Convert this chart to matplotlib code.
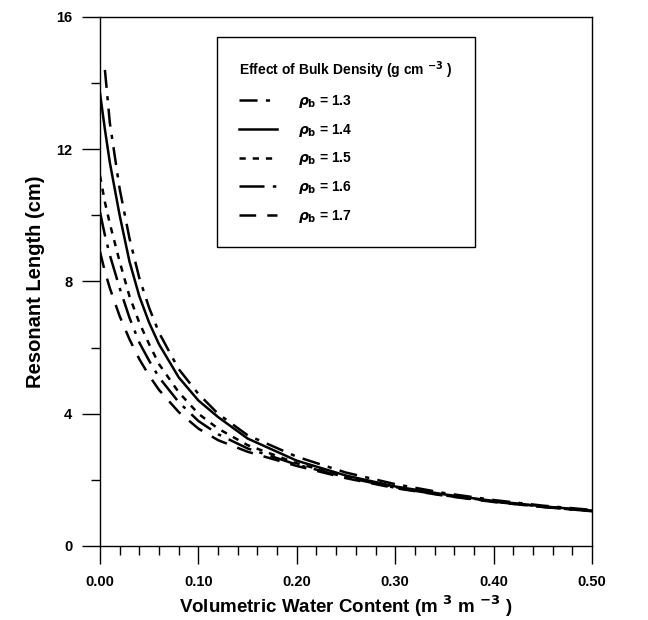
import numpy as np
import matplotlib
matplotlib.use('Agg')
import matplotlib.pyplot as plt
from matplotlib.ticker import MultipleLocator

plt.rcParams['font.family'] = ['Liberation Sans', 'DejaVu Sans']
plt.rcParams['font.weight'] = 'bold'
plt.rcParams['mathtext.fontset'] = 'dejavusans'
plt.rcParams['lines.scale_dashes'] = False

# volumetric water content (m3 m-3)
theta = [0, 0.005, 0.01, 0.02, 0.03, 0.04, 0.05, 0.06, 0.08, 0.10,
         0.12, 0.15, 0.20, 0.25, 0.30, 0.35, 0.40, 0.45, 0.50]

# resonant length (cm)
L_13 = [np.nan, 14.4, 12.8, 10.8, 9.3, 8.1, 7.2, 6.45, 5.35, 4.6,
        4.0, 3.35, 2.7, 2.22, 1.87, 1.6, 1.39, 1.22, 1.09]
L_14 = [13.7, 12.6, 11.6, 10.0, 8.6, 7.55, 6.75, 6.1, 5.1, 4.4,
        3.9, 3.25, 2.58, 2.13, 1.8, 1.56, 1.36, 1.2, 1.07]
L_15 = [11.2, 10.4, 9.75, 8.6, 7.55, 6.75, 6.1, 5.5, 4.65, 4.0,
        3.55, 3.05, 2.5, 2.1, 1.78, 1.54, 1.35, 1.19, 1.06]
L_16 = [10.1, 9.4, 8.8, 7.8, 6.9, 6.15, 5.6, 5.1, 4.35, 3.78,
        3.38, 2.95, 2.46, 2.08, 1.76, 1.53, 1.34, 1.18, 1.05]
L_17 = [8.9, 8.3, 7.8, 6.95, 6.25, 5.65, 5.15, 4.72, 4.05, 3.55,
        3.2, 2.85, 2.42, 2.05, 1.75, 1.52, 1.33, 1.18, 1.05]

densities = ['1.3', '1.4', '1.5', '1.6', '1.7']
series = [L_13, L_14, L_15, L_16, L_17]
styles = [(0, (13, 6, 3, 6)), '-', (0, (4.5, 5)), (0, (18, 6, 2.5, 6)), (0, (12, 8))]

fig = plt.figure(figsize=(6.48, 6.2), dpi=100)
ax = fig.add_axes([0.1543, 0.1194, 0.7593, 0.8532])

for d, L, ls in zip(densities, series, styles):
    ax.plot(theta, L, color='black', lw=1.8, linestyle=ls,
            label=r'$\rho_\mathbf{b}$ = ' + d)

ax.set_xlim(0, 0.5)
ax.set_ylim(0, 16)
ax.xaxis.set_major_locator(MultipleLocator(0.1))
ax.xaxis.set_minor_locator(MultipleLocator(0.02))
ax.yaxis.set_major_locator(MultipleLocator(4))
ax.yaxis.set_minor_locator(MultipleLocator(2))
ax.xaxis.set_major_formatter(plt.FuncFormatter(lambda v, p: f'{v:.2f}'))
ax.tick_params(which='major', direction='out', length=13, width=1, labelsize=10.5, pad=8)
ax.tick_params(which='minor', direction='out', length=6.5, width=1)
ax.tick_params(axis='y', which='major', pad=7)
for s in ax.spines.values():
    s.set_linewidth(1)

ax.set_xlabel(r'Volumetric Water Content (m $^3$ m $^{-3}$ )', fontsize=13.5,
              fontweight='bold', labelpad=3)
ax.set_ylabel('Resonant Length (cm)', fontsize=14.5, fontweight='bold', labelpad=8)

leg = ax.legend(loc='upper left', bbox_to_anchor=(0.335, 0.94),
                bbox_transform=fig.transFigure, borderaxespad=0,
                title=r'Effect of Bulk Density (g cm $^{-3}$ )',
                fontsize=10, title_fontproperties={'size': 10, 'weight': 'bold'},
                alignment='left', handlelength=2.7, handletextpad=1.5,
                labelspacing=0.85, borderpad=1.6, fancybox=False,
                framealpha=1, edgecolor='black')
leg.get_frame().set_linewidth(1)

fig.savefig('out.png', dpi=100)
